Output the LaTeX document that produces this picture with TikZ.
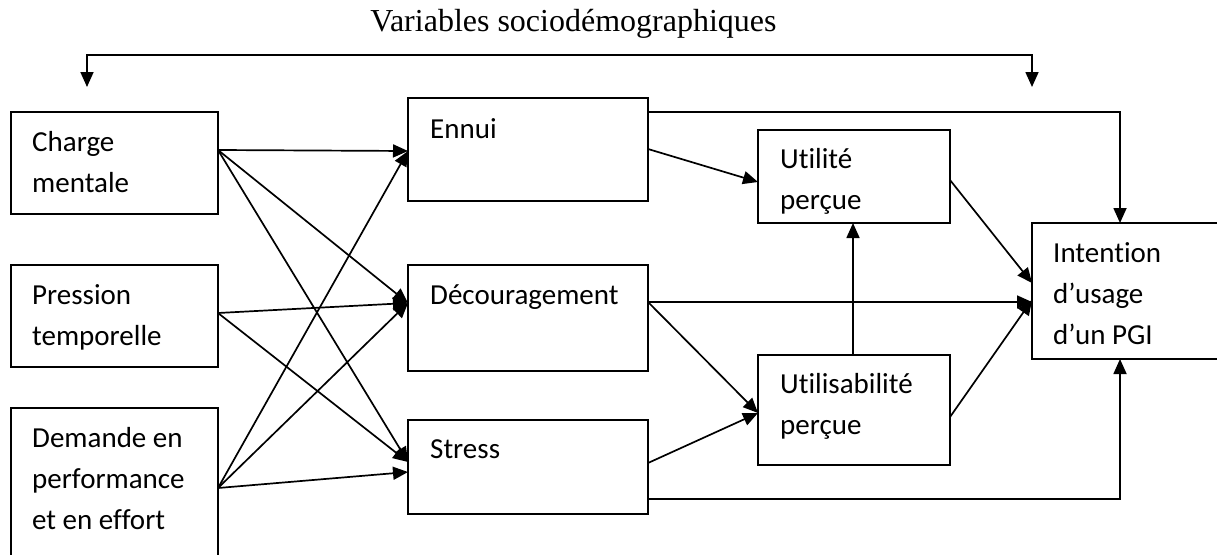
\documentclass[tikz,border=0pt]{standalone}
\usepackage{fontspec}
\setmainfont{Carlito}[Ligatures={NoCommon}]
\newfontfamily\titlefont{Liberation Serif}
\usetikzlibrary{arrows.meta,calc}
\tikzset{
  box/.style={draw=black, line width=1.7pt, anchor=north west, inner sep=0pt, outer sep=0pt},
  lbl/.style={anchor=base west, inner sep=0pt, font=\fontsize{29}{41}\selectfont},
  conn/.style={line width=1.7pt, -{Triangle[length=15pt,width=13pt]}},
  biconn/.style={line width=1.7pt, {Triangle[length=15pt,width=13pt]}-{Triangle[length=15pt,width=13pt]}}
}
\begin{document}
\begin{tikzpicture}[x=1pt,y=-1pt]
\useasboundingbox (0,0) rectangle (1217,554);

% title
\node[anchor=base, inner sep=0pt, font=\titlefont\fontsize{32}{38}\selectfont] (title) at (573.5,31) {Variables sociodémographiques};

% boxes
\node[box, minimum width=207pt, minimum height=102pt] (charge) at (11,112) {};
\node[box, minimum width=207pt, minimum height=102pt] (pression) at (11,265) {};
\node[box, minimum width=207pt, minimum height=155pt] (demande) at (11,408) {};
\node[box, minimum width=240pt, minimum height=103pt] (ennui) at (408,98) {};
\node[box, minimum width=240pt, minimum height=106pt] (decour) at (408,265) {};
\node[box, minimum width=240pt, minimum height=94pt] (stress) at (408,420) {};
\node[box, minimum width=192pt, minimum height=93pt] (utilite) at (758,130) {};
\node[box, minimum width=192pt, minimum height=110pt] (utilis) at (758,355) {};
\node[box, minimum width=205pt, minimum height=136pt] (intention) at (1032,223) {};

% labels
\node[lbl] (charge-t) at ([shift={(21pt,-39pt)}]charge.north west) {\parbox[t]{190pt}{Charge\\mentale}};
\node[lbl] (pression-t) at ([shift={(21pt,-39pt)}]pression.north west) {\parbox[t]{190pt}{Pression\\temporelle}};
\node[lbl] (demande-t) at ([shift={(21pt,-39pt)}]demande.north west) {\parbox[t]{190pt}{Demande en\\performance\\et en effort}};
\node[lbl] (ennui-t) at ([shift={(22pt,-40pt)}]ennui.north west) {Ennui};
\node[lbl] (decour-t) at ([shift={(22pt,-39pt)}]decour.north west) {Découragement};
\node[lbl] (stress-t) at ([shift={(22pt,-38pt)}]stress.north west) {Stress};
\node[lbl] (utilite-t) at ([shift={(22pt,-38pt)}]utilite.north west) {\parbox[t]{170pt}{Utilité\\perçue}};
\node[lbl] (utilis-t) at ([shift={(22pt,-38pt)}]utilis.north west) {\parbox[t]{170pt}{Utilisabilité\\perçue}};
\node[lbl] (intention-t) at ([shift={(21pt,-39pt)}]intention.north west) {\parbox[t]{170pt}{Intention\\d’usage\\d’un PGI}};

% connection points
\coordinate (cO) at ([yshift=-38pt]charge.north east);
\coordinate (pO) at ([yshift=-48pt]pression.north east);
\coordinate (dO) at ([yshift=-80pt]demande.north east);
\coordinate (eI) at ([yshift=-53pt]ennui.north west);
\coordinate (dcI) at ([yshift=-38pt]decour.north west);
\coordinate (sI1) at ([yshift=-42pt]stress.north west);
\coordinate (sI2) at ([yshift=-52pt]stress.north west);

% left arrows
\draw[conn] (cO) -- (eI);
\draw[conn] (cO) -- (dcI);
\draw[conn] (cO) -- (sI1);
\draw[conn] (pO) -- (dcI);
\draw[conn] (pO) -- (sI1);
\draw[conn] (dO) -- (sI2);
\draw[conn] (dO) -- (dcI);
\draw[conn] (dO) -- (eI);

% right arrows
\draw[conn] ([yshift=-14pt]ennui.north east) -| ([xshift=88pt]intention.north west);
\draw[conn] ([yshift=-51pt]ennui.north east) -- ([yshift=-52pt]utilite.north west);
\draw[conn] ([yshift=-50pt]utilite.north east) -- ([yshift=-60pt]intention.north west);
\draw[conn] ([yshift=-37pt]decour.north east) -- ([yshift=-79pt]intention.north west);
\draw[conn] ([yshift=-37pt]decour.north east) -- ([yshift=-58pt]utilis.north west);
\draw[conn] ([yshift=-43pt]stress.north east) -- ([yshift=-58pt]utilis.north west);
\draw[conn] ([xshift=95pt]utilis.north west) -- ([xshift=95pt]utilite.south west);
\draw[conn] ([yshift=-62pt]utilis.north east) -- ([yshift=-77pt]intention.north west);
\draw[conn] ([yshift=-79pt]stress.north east) -| ([xshift=88pt]intention.south west);

% top bracket
\coordinate (tl) at (87,87);
\coordinate (tlc) at (87,55);
\coordinate (trc) at (1032,55);
\coordinate (tr) at ([yshift=136pt]intention.north west);
\draw[biconn] (tl) -- (tlc) -- (trc) -- (tr);
\end{tikzpicture}
\end{document}
